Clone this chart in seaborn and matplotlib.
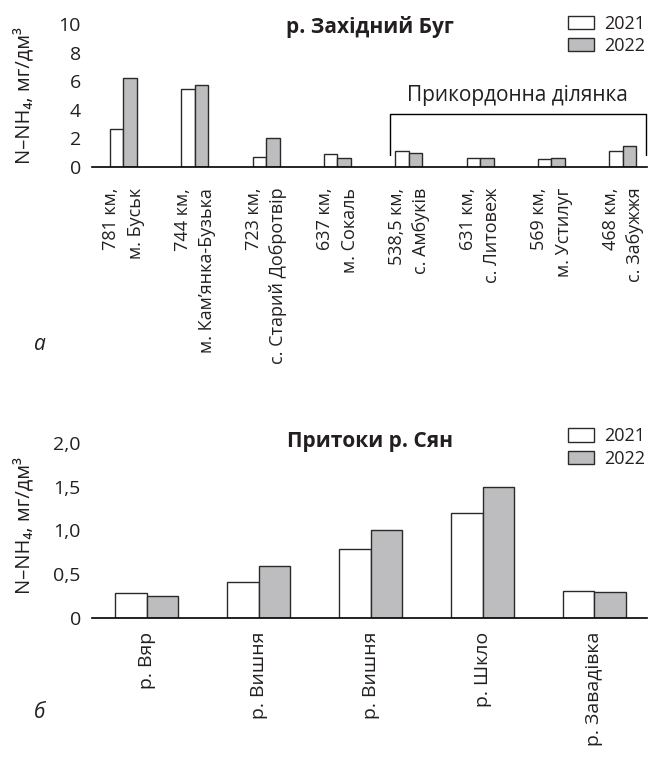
import matplotlib
matplotlib.use("Agg")
import matplotlib.pyplot as plt
import seaborn as sns
import pandas as pd
from matplotlib.patches import Patch

sns.set_style("white")
plt.rcParams['font.family'] = ['Open Sans', 'DejaVu Sans']
plt.rcParams['axes.unicode_minus'] = False
ink = "#231f20"
plt.rcParams['text.color'] = ink
plt.rcParams['axes.labelcolor'] = ink
plt.rcParams['xtick.color'] = ink
plt.rcParams['ytick.color'] = ink

years = ["2021", "2022"]

bug_sites = ["781 км,\nм. Буськ", "744 км,\nм. Кам’янка-Бузька", "723 км,\nс. Старий Добротвір",
             "637 км,\nм. Сокаль", "538,5 км,\nс. Амбуків", "631 км,\nс. Литовеж",
             "569 км,\nм. Устилуг", "468 км,\nс. Забужжя"]
bug_2021 = [2.65, 5.45, 0.72, 0.88, 1.14, 0.64, 0.55, 1.1]
bug_2022 = [6.25, 5.72, 2.05, 0.6, 0.95, 0.6, 0.6, 1.5]

syan_sites = ["р. Вяр", "р. Вишня", "р. Вишня ", "р. Шкло", "р. Завадівка"]
syan_2021 = [0.28, 0.41, 0.79, 1.2, 0.31]
syan_2022 = [0.25, 0.59, 1.0, 1.5, 0.3]

bug_ticks = [0, 2, 4, 6, 8, 10]
syan_ticks = [0, 0.5, 1.0, 1.5, 2.0]
syan_ticklabels = ["0", "0,5", "1,0", "1,5", "2,0"]

df_bug = pd.DataFrame({"site": bug_sites * 2, "value": bug_2021 + bug_2022,
                       "year": [years[0]] * len(bug_sites) + [years[1]] * len(bug_sites)})
df_syan = pd.DataFrame({"site": syan_sites * 2, "value": syan_2021 + syan_2022,
                        "year": [years[0]] * len(syan_sites) + [years[1]] * len(syan_sites)})

palette = {"2021": "white", "2022": "#bdbdbf"}
edge = "#2a2a2a"

fig = plt.figure(figsize=(6.5, 7.58), dpi=100)
ax1 = fig.add_axes([0.1415, 0.7797, 0.854, 0.1887])
ax2 = fig.add_axes([0.1415, 0.1847, 0.854, 0.2309])

sns.barplot(data=df_bug, x="site", y="value", hue="year", palette=palette, order=bug_sites,
            hue_order=years, width=0.38, edgecolor=edge, linewidth=1.0, ax=ax1, legend=False)
sns.barplot(data=df_syan, x="site", y="value", hue="year", palette=palette, order=syan_sites,
            hue_order=years, width=0.56, edgecolor=edge, linewidth=1.0, ax=ax2, legend=False)

ylabel = "N–NH₄, мг/дм³"
for ax in (ax1, ax2):
    for s in ("top", "right", "left"):
        ax.spines[s].set_visible(False)
    ax.spines["bottom"].set_color("black")
    ax.spines["bottom"].set_linewidth(1.2)
    ax.tick_params(axis="both", length=0)
    ax.set_xlabel("")
    ax.set_ylabel(ylabel, fontsize=14.5)
    ax.grid(False)
    ax.set_facecolor("white")

ax1.yaxis.set_label_coords(-0.103, 0.5)
ax2.yaxis.set_label_coords(-0.103, 0.53)

ax1.set_xlim(-0.44, 7.34)
ax1.set_ylim(0, 10)
ax1.set_yticks(bug_ticks)
ax1.set_yticklabels([str(t) for t in bug_ticks], fontsize=14)
ax1.set_xticks(range(len(bug_sites)))
ax1.set_xticklabels(bug_sites, rotation=90, fontsize=13, ha="center", va="top",
                    multialignment="right", linespacing=1.45)
ax1.tick_params(axis="x", pad=15)
ax1.tick_params(axis="y", pad=8)
ax1.set_title("р. Західний Буг", fontsize=15, fontweight="bold", y=0.88)

ax2.set_xlim(-0.49, 4.47)
ax2.set_ylim(0, 2.0)
ax2.set_yticks(syan_ticks)
ax2.set_yticklabels(syan_ticklabels, fontsize=14)
ax2.set_xticks(range(len(syan_sites)))
ax2.set_xticklabels([s.strip() for s in syan_sites], rotation=90, fontsize=14, ha="center", va="top")
ax2.tick_params(axis="x", pad=10)
ax2.tick_params(axis="y", pad=8)
ax2.set_title("Притоки р. Сян", fontsize=15, fontweight="bold", y=0.93)

# bracket for border section
bx0, bx1, by, bdrop = 3.73, 7.33, 3.68, 0.83
ax1.plot([bx0, bx0, bx1, bx1], [bdrop, by, by, bdrop], color="black", lw=1.0, clip_on=False)
ax1.text((bx0 + bx1) / 2, 5.0, "Прикордонна ділянка", ha="center", va="center", fontsize=15)

handles = [Patch(facecolor=palette[y], edgecolor=edge, linewidth=1.0, label=y) for y in years]
for ax, anchor in ((ax1, (0.997, 1.065)), (ax2, (0.997, 1.09))):
    ax.legend(handles=handles, loc="upper right", bbox_to_anchor=anchor, frameon=False,
              fontsize=13, handlelength=1.4, handleheight=0.75, handletextpad=0.6,
              labelspacing=0.25, borderaxespad=0, borderpad=0)

fig.text(40 / 650, 1 - 345 / 758, "а", fontsize=15, style="italic", ha="center", va="center")
fig.text(40 / 650, 1 - 713 / 758, "б", fontsize=15, style="italic", ha="center", va="center")

fig.savefig("out.png", dpi=100, facecolor="white")
